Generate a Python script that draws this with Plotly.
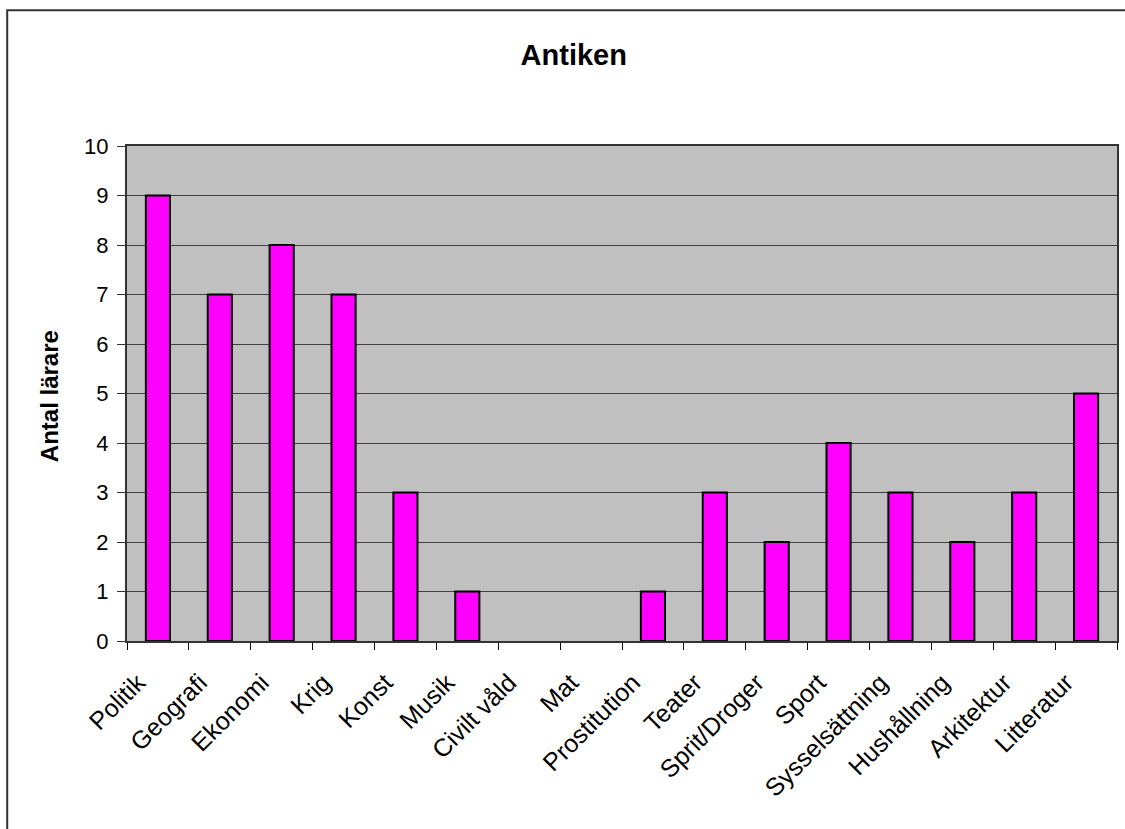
import plotly.graph_objects as go

categories = ["Politik", "Geografi", "Ekonomi", "Krig", "Konst", "Musik", "Civilt våld", "Mat",
              "Prostitution", "Teater", "Sprit/Droger", "Sport", "Sysselsättning", "Hushållning",
              "Arkitektur", "Litteratur"]
antal = [9, 7, 8, 7, 3, 1, 0, 0, 1, 3, 2, 4, 3, 2, 3, 5]

fig = go.Figure()

# zero-height bars are not drawn in the original (no flat outline)
fig.add_trace(go.Bar(
    x=categories,
    y=[v if v else None for v in antal],
    marker=dict(color="#FF00FF", line=dict(color="black", width=2)),
    width=0.39,
))

# outer frame around the chart (right/bottom run off the image)
fig.add_shape(
    type="rect", xref="paper", yref="paper",
    x0=-0.121, x1=1.03, y0=-0.45, y1=1.274,
    line=dict(color="#333333", width=2), fillcolor="rgba(0,0,0,0)",
    layer="below",
)

# y axis title placed by hand
fig.add_annotation(
    text="<b>Antal lärare</b>", xref="paper", yref="paper",
    x=-0.0776, y=0.495, textangle=-90, showarrow=False,
    xanchor="center", yanchor="middle", font=dict(size=24),
)

fig.update_layout(
    width=1125,
    height=829,
    margin=dict(l=127, r=6, t=146, b=188),
    paper_bgcolor="white",
    plot_bgcolor="#C0C0C0",
    font=dict(family="Arial, Liberation Sans", color="black", size=22),
    title=dict(text="<b>Antiken</b>", x=0.51, xanchor="center", y=0.934, yanchor="middle",
               font=dict(size=29)),
    showlegend=False,
    xaxis=dict(
        tickangle=-45,
        tickson="boundaries",
        ticks="outside",
        ticklen=7,
        tickcolor="black",
        showline=True,
        linecolor="#333333",
        linewidth=2,
        mirror=True,
        showgrid=False,
        tickfont=dict(size=25),
        ticklabelstandoff=15,
        ticklabelshift=-20,
    ),
    yaxis=dict(
        range=[0, 10],
        dtick=1,
        ticks="outside",
        ticklen=8,
        tickcolor="#333333",
        showline=True,
        linecolor="#333333",
        linewidth=2,
        mirror=True,
        showgrid=True,
        gridcolor="#404040",
        gridwidth=1,
        zeroline=False,
        tickfont=dict(size=22),
        ticklabelstandoff=4,
    ),
)

fig.write_html("out.html", config={"displayModeBar": False},
               post_script="document.body.style.margin='0';")
